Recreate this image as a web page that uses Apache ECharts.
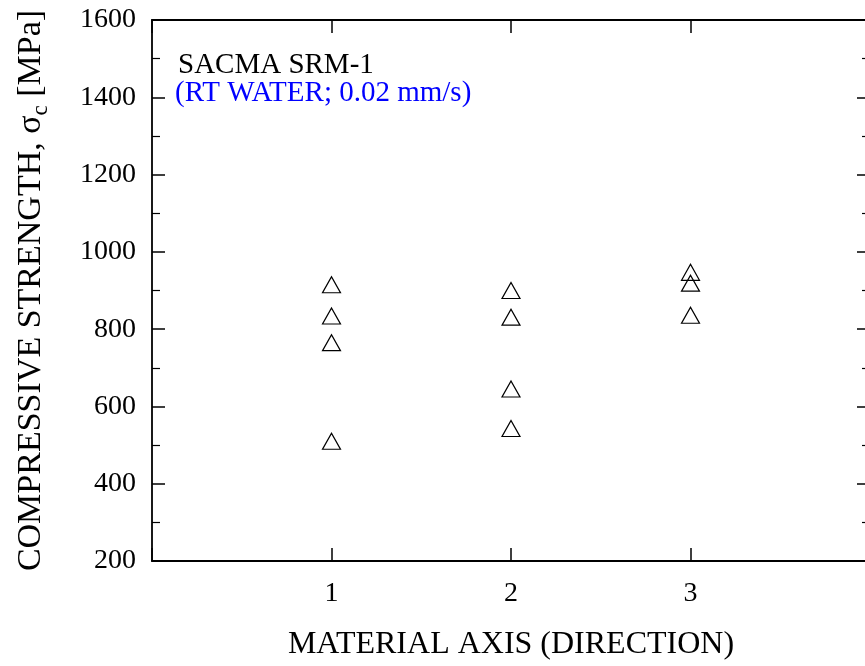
<!DOCTYPE html>
<html>
<head>
<meta charset="utf-8">
<script src="https://cdn.jsdelivr.net/npm/echarts@6/dist/echarts.min.js"></script>
<style>
  html, body { margin: 0; padding: 0; background: #fff; overflow: hidden; }
  /* plot frame runs a few pixels past the right edge of the page */
  #chart { width: 876px; height: 666px; }
</style>
</head>
<body>
<div id="chart"></div>
<script>
// Compressive strength (MPa) per material direction
const directions = [1, 2, 3];
const strength1 = [915, 834, 765, 510];
const strength2 = [900, 831, 645, 543];
const strength3 = [947, 919, 836];
const yTicks = [200, 400, 600, 800, 1000, 1200, 1400, 1600];

const serif = "'Liberation Serif', 'Times New Roman', serif";

const points = [];
[strength1, strength2, strength3].forEach((vals, i) => {
  vals.forEach(v => points.push([directions[i], v]));
});

const tickCommon = { show: true, inside: true, length: 13, lineStyle: { color: '#000', width: 1.5 } };
const lineCommon = { show: true, onZero: false, lineStyle: { color: '#000', width: 1.8 } };

const chart = echarts.init(document.getElementById('chart'), null, { renderer: 'canvas' });
chart.setOption({
  animation: false,
  backgroundColor: '#fff',
  grid: { left: 152, right: 6, top: 20, bottom: 105, containLabel: false },
  xAxis: [
    {
      type: 'value', position: 'bottom', min: 0, max: 4, interval: 1,
      axisLine: lineCommon, axisTick: tickCommon, splitLine: { show: false },
      axisLabel: {
        show: true, margin: 19, color: '#000', fontSize: 28, fontFamily: serif,
        formatter: v => (directions.indexOf(v) >= 0 ? String(v) : '')
      },
      name: 'MATERIAL AXIS (DIRECTION)', nameLocation: 'middle', nameGap: 68,
      nameTextStyle: { color: '#000', fontSize: 32, fontFamily: serif }
    },
    {
      type: 'value', position: 'top', min: 0, max: 4, interval: 1,
      axisLine: lineCommon, axisTick: tickCommon, axisLabel: { show: false }, splitLine: { show: false }
    }
  ],
  yAxis: [
    {
      type: 'value', position: 'left', min: yTicks[0], max: yTicks[yTicks.length - 1], interval: 200,
      axisLine: lineCommon, axisTick: tickCommon, splitLine: { show: false },
      minorTick: { show: true, splitNumber: 2, length: 8, lineStyle: { color: '#000', width: 1.2 } },
      axisLabel: {
        show: true, margin: 16, color: '#000', fontSize: 28, fontFamily: serif,
        formatter: v => String(v)
      },
      name: '{a|COMPRESSIVE STRENGTH, σ}{s|c}{a| [MPa]}',
      nameLocation: 'middle', nameGap: 104, nameRotate: 90,
      nameTextStyle: {
        color: '#000', fontFamily: serif,
        rich: {
          a: { fontSize: 34, lineHeight: 34, fontFamily: serif, color: '#000' },
          s: { fontSize: 23, lineHeight: 23, padding: [20, 0, 0, 0], fontFamily: serif, color: '#000' }
        }
      }
    },
    {
      type: 'value', position: 'right', min: yTicks[0], max: yTicks[yTicks.length - 1], interval: 200,
      axisLine: lineCommon, axisTick: tickCommon, splitLine: { show: false },
      minorTick: { show: true, splitNumber: 2, length: 8, lineStyle: { color: '#000', width: 1.2 } },
      axisLabel: { show: false }
    }
  ],
  graphic: [
    { type: 'text', x: 178, y: 65, silent: true,
      style: { text: 'SACMA SRM-1', fill: '#000', font: '29px ' + serif, verticalAlign: 'middle', align: 'left' } },
    { type: 'text', x: 175, y: 93, silent: true,
      style: { text: '(RT WATER; 0.02 mm/s)', fill: '#0000ff', font: '29px ' + serif, verticalAlign: 'middle', align: 'left' } }
  ],
  series: [
    {
      type: 'scatter', xAxisIndex: 0, yAxisIndex: 0,
      data: points,
      symbol: 'triangle', symbolSize: [18, 16],
      itemStyle: { color: 'rgba(0,0,0,0)', borderColor: '#000', borderWidth: 1.2, opacity: 1 },
      emphasis: { disabled: true },
      silent: true
    }
  ]
});
</script>
</body>
</html>
